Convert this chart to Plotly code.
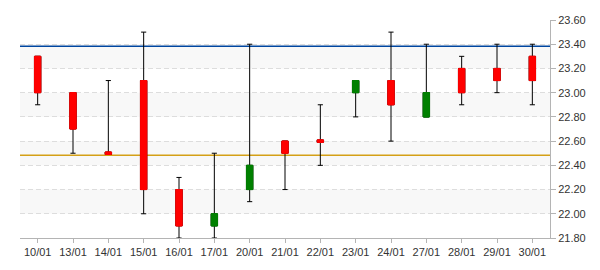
import plotly.graph_objects as go

dates = ["10/01", "13/01", "14/01", "15/01", "16/01", "17/01", "20/01", "21/01",
         "22/01", "23/01", "24/01", "27/01", "28/01", "29/01", "30/01"]
opens = [23.3, 23.0, 22.51, 23.1, 22.2, 21.9, 22.2, 22.6, 22.61, 23.0, 23.1, 22.8, 23.2, 23.2, 23.3]
highs = [23.3, 23.0, 23.1, 23.5, 22.3, 22.5, 23.4, 22.6, 22.9, 23.1, 23.5, 23.4, 23.3, 23.4, 23.4]
lows = [22.9, 22.5, 22.49, 22.0, 21.8, 21.8, 22.1, 22.2, 22.4, 22.8, 22.6, 22.8, 22.9, 23.0, 22.9]
closes = [23.0, 22.7, 22.49, 22.2, 21.9, 22.0, 22.4, 22.5, 22.59, 23.1, 22.9, 23.0, 23.0, 23.1, 23.1]

blue_level = 23.383
orange_level = 22.483
bands = [(22.0, 22.2), (22.4, 22.6), (22.8, 23.0), (23.2, 23.4)]

RED = "#ff0000"
GREEN = "#008000"

body_high = [max(o, c) for o, c in zip(opens, closes)]
body_low = [min(o, c) for o, c in zip(opens, closes)]

fig = go.Figure()
# wicks with caps
fig.add_trace(go.Candlestick(
    x=dates, open=opens, high=highs, low=lows, close=closes,
    whiskerwidth=0.8,
    increasing=dict(line=dict(color="#000000", width=1), fillcolor=GREEN),
    decreasing=dict(line=dict(color="#000000", width=1), fillcolor=RED),
    hoverinfo="skip", showlegend=False,
))
# coloured bodies
fig.add_trace(go.Candlestick(
    x=dates, open=opens, high=body_high, low=body_low, close=closes,
    whiskerwidth=0.8,
    increasing=dict(line=dict(color=GREEN, width=1), fillcolor=GREEN),
    decreasing=dict(line=dict(color=RED, width=1), fillcolor=RED),
    hoverinfo="skip", showlegend=False,
))

shapes = []
for lo, hi in bands:
    shapes.append(dict(type="rect", xref="paper", yref="y", x0=0, x1=1, y0=lo, y1=hi,
                       fillcolor="#f8f8f8", line=dict(width=0), layer="below"))
shapes.append(dict(type="line", xref="paper", yref="y", x0=0, x1=1, y0=blue_level, y1=blue_level,
                   line=dict(color="#0046a0", width=1.5), layer="between"))
shapes.append(dict(type="line", xref="paper", yref="y", x0=0, x1=1, y0=orange_level, y1=orange_level,
                   line=dict(color="#d4a017", width=1.5), layer="between"))

fig.update_layout(
    width=600, height=270,
    margin=dict(l=20, r=50, t=20, b=30),
    paper_bgcolor="white", plot_bgcolor="white",
    boxgap=0.74, boxmode="overlay",
    shapes=shapes,
    font=dict(family="Liberation Sans, Arial, sans-serif", size=11, color="#333333"),
    xaxis=dict(type="category", rangeslider=dict(visible=False), showgrid=False,
               showline=True, linecolor="#b4b4b4", linewidth=1,
               ticks="outside", ticklen=4, tickcolor="#b4b4b4",
               range=[-0.5, len(dates) - 0.5], fixedrange=True),
    yaxis=dict(side="right", range=[21.8, 23.6], dtick=0.2, tick0=21.8, tickformat=".2f",
               showline=True, linecolor="#b4b4b4", linewidth=1,
               ticks="outside", ticklen=5, tickcolor="#b4b4b4",
               showgrid=True, gridcolor="#dddddd", griddash="5px,3px", zeroline=False,
               fixedrange=True),
)

fig.write_html("out.html")
